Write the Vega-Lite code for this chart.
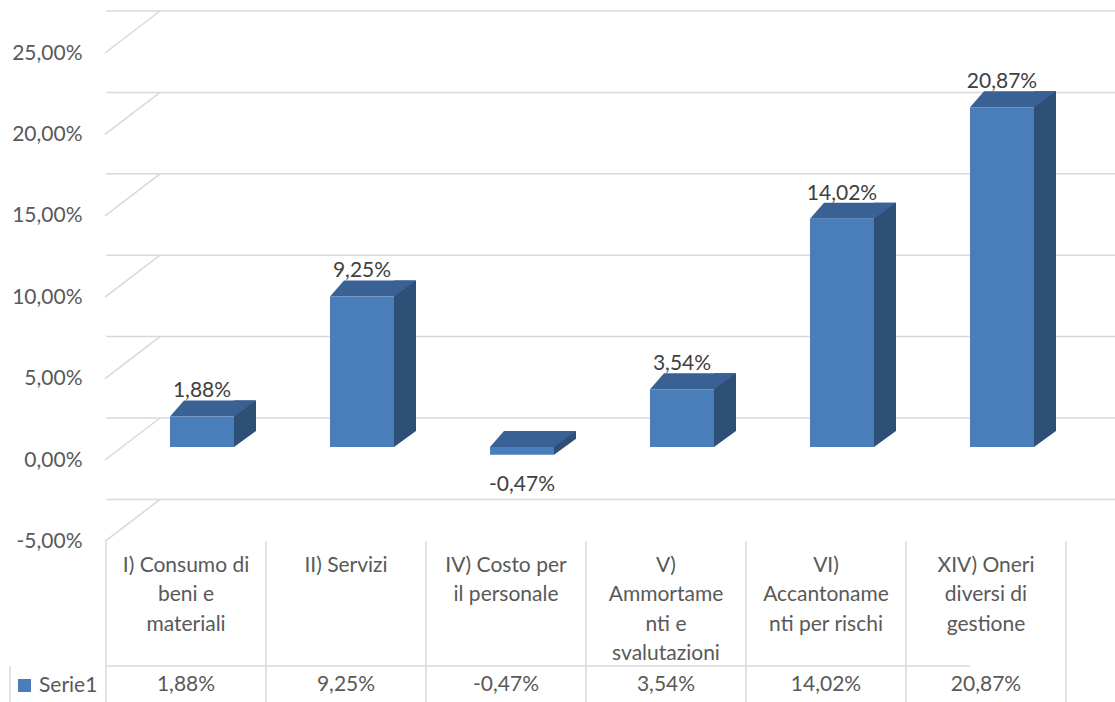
{
  "$schema": "https://vega.github.io/schema/vega-lite/v6.json",
  "autosize": {"type": "none"},
  "width": 960,
  "height": 702,
  "padding": {"left": 106, "right": 49, "top": 0, "bottom": 0},
  "background": "white",
  "config": {
    "view": {"stroke": null},
    "font": "Lato",
    "axisY": {"domain": false, "ticks": false, "grid": false, "labelPadding": 24, "labelFont": "Lato", "labelFontSize": 21, "labelColor": "#595959"},
    "locale": {"number": {"decimal": ",", "thousands": ".", "grouping": [3], "currency": ["", " €"], "minus": "-"}}
  },
  "datasets": {
    "costi": [
      {"voce": "I) Consumo di beni e materiali", "etichetta": "I) Consumo di\nbeni e\nmateriali", "valore": 0.0188},
      {"voce": "II) Servizi", "etichetta": "II) Servizi", "valore": 0.0925},
      {"voce": "IV) Costo per il personale", "etichetta": "IV) Costo per\nil personale", "valore": -0.0047},
      {"voce": "V) Ammortamenti e svalutazioni", "etichetta": "V)\nAmmortame\nnti e\nsvalutazioni", "valore": 0.0354},
      {"voce": "VI) Accantonamenti per rischi", "etichetta": "VI)\nAccantoname\nnti per rischi", "valore": 0.1402},
      {"voce": "XIV) Oneri diversi di gestione", "etichetta": "XIV) Oneri\ndiversi di\ngestione", "valore": 0.2087}
    ],
    "griglia": [{"t": -0.05}, {"t": 0}, {"t": 0.05}, {"t": 0.1}, {"t": 0.15}, {"t": 0.2}, {"t": 0.25}],
    "riga": [{"riga": "Serie1"}]
  },
  "layer": [
    {
      "data": {"name": "griglia"},
      "mark": {"type": "rule", "color": "#D9D9D9", "strokeWidth": 1.5, "xOffset": 54, "x2Offset": 47, "yOffset": -42},
      "encoding": {
        "y": {"field": "t", "type": "quantitative", "scale": {"domain": [-0.14865, 0.28256], "nice": false, "zero": false},
          "axis": {"values": [-0.05, 0, 0.05, 0.1, 0.15, 0.2, 0.25], "format": ".2%", "title": null}}
      }
    },
    {
      "data": {"name": "griglia"},
      "mark": {"type": "rule", "color": "#D9D9D9", "strokeWidth": 1.5, "xOffset": -81, "x2Offset": -26, "y2Offset": -42},
      "encoding": {
        "x": {"datum": "I) Consumo di beni e materiali", "type": "nominal", "scale": {"type": "band", "paddingInner": 0, "paddingOuter": 0}, "axis": null},
        "x2": {"datum": "I) Consumo di beni e materiali"},
        "y": {"field": "t", "type": "quantitative", "scale": {"domain": [-0.14865, 0.28256], "nice": false, "zero": false},
          "axis": {"values": [-0.05, 0, 0.05, 0.1, 0.15, 0.2, 0.25], "format": ".2%", "title": null}},
        "y2": {"field": "t"}
      }
    },
    {
      "data": {"name": "costi"},
      "mark": {"type": "bar", "color": "#2F5076", "width": 22, "xOffset": 59, "yOffset": -29, "y2Offset": -29},
      "encoding": {
        "x": {"field": "voce", "type": "nominal", "sort": null, "scale": {"type": "band", "paddingInner": 0, "paddingOuter": 0}, "axis": null},
        "y": {"field": "valore", "type": "quantitative", "scale": {"domain": [-0.14865, 0.28256], "nice": false, "zero": false},
          "axis": {"values": [-0.05, 0, 0.05, 0.1, 0.15, 0.2, 0.25], "format": ".2%", "title": null}},
        "y2": {"datum": 0}
      }
    },
    {
      "data": {"name": "costi"},
      "transform": [{"filter": "datum.valore >= 0"}],
      "mark": {"type": "point", "shape": "M0.64,0L0.64,-0.34L1.08,-0.34L1.08,-0.32Z", "size": 10000, "filled": true, "color": "#2F5076", "opacity": 1, "strokeWidth": 0, "xOffset": 16, "yOffset": -13},
      "encoding": {
        "x": {"field": "voce", "type": "nominal", "sort": null, "axis": null},
        "y": {"datum": 0, "type": "quantitative", "axis": {"values": [-0.05, 0, 0.05, 0.1, 0.15, 0.2, 0.25], "format": ".2%", "title": null}}
      }
    },
    {
      "data": {"name": "costi"},
      "transform": [{"filter": "datum.valore < 0"}],
      "mark": {"type": "point", "shape": "M0.64,0L0.64,-0.34L1.08,-0.34L1.08,-0.32Z", "size": 10000, "filled": true, "color": "#2F5076", "opacity": 1, "strokeWidth": 0, "xOffset": 16, "yOffset": -13},
      "encoding": {
        "x": {"field": "voce", "type": "nominal", "sort": null, "axis": null},
        "y": {"field": "valore", "type": "quantitative", "axis": {"values": [-0.05, 0, 0.05, 0.1, 0.15, 0.2, 0.25], "format": ".2%", "title": null}}
      }
    },
    {
      "data": {"name": "costi"},
      "transform": [{"filter": "datum.valore >= 0"}],
      "mark": {"type": "point", "shape": "M-0.64,0L0.64,0L1.08,-0.32L-0.36,-0.32Z", "size": 10000, "filled": true, "color": "#3A6194", "opacity": 1, "strokeWidth": 0, "xOffset": 16, "yOffset": -13},
      "encoding": {
        "x": {"field": "voce", "type": "nominal", "sort": null, "axis": null},
        "y": {"field": "valore", "type": "quantitative", "axis": {"values": [-0.05, 0, 0.05, 0.1, 0.15, 0.2, 0.25], "format": ".2%", "title": null}}
      }
    },
    {
      "data": {"name": "costi"},
      "transform": [{"filter": "datum.valore < 0"}],
      "mark": {"type": "point", "shape": "M-0.64,0L0.64,0L1.08,-0.32L-0.36,-0.32Z", "size": 10000, "filled": true, "color": "#3A6194", "opacity": 1, "strokeWidth": 0, "xOffset": 16, "yOffset": -13},
      "encoding": {
        "x": {"field": "voce", "type": "nominal", "sort": null, "axis": null},
        "y": {"datum": 0, "type": "quantitative", "axis": {"values": [-0.05, 0, 0.05, 0.1, 0.15, 0.2, 0.25], "format": ".2%", "title": null}}
      }
    },
    {
      "data": {"name": "costi"},
      "mark": {"type": "bar", "width": 64, "xOffset": 16, "yOffset": -13, "y2Offset": -13},
      "encoding": {
        "x": {"field": "voce", "type": "nominal", "sort": null, "axis": null},
        "y": {"field": "valore", "type": "quantitative", "axis": {"values": [-0.05, 0, 0.05, 0.1, 0.15, 0.2, 0.25], "format": ".2%", "title": null}},
        "y2": {"datum": 0},
        "color": {"datum": "Serie1", "scale": {"range": ["#4A7EBB"]},
          "legend": {"orient": "none", "legendX": -92, "legendY": 675, "title": null, "padding": 0, "symbolType": "square", "symbolSize": 169, "symbolStrokeWidth": 0, "labelFont": "Lato", "labelFontSize": 21, "labelColor": "#595959", "labelOffset": 4}}
      }
    },
    {
      "data": {"name": "costi"},
      "transform": [{"filter": "datum.valore >= 0"}],
      "mark": {"type": "text", "font": "Lato", "fontSize": 21, "color": "#404040", "baseline": "middle", "xOffset": 16, "yOffset": -38},
      "encoding": {
        "x": {"field": "voce", "type": "nominal", "sort": null, "axis": null},
        "y": {"field": "valore", "type": "quantitative", "axis": {"values": [-0.05, 0, 0.05, 0.1, 0.15, 0.2, 0.25], "format": ".2%", "title": null}},
        "text": {"field": "valore", "type": "quantitative", "format": ".2%"}
      }
    },
    {
      "data": {"name": "costi"},
      "transform": [{"filter": "datum.valore < 0"}],
      "mark": {"type": "text", "font": "Lato", "fontSize": 21, "color": "#404040", "baseline": "middle", "xOffset": 16, "yOffset": 17},
      "encoding": {
        "x": {"field": "voce", "type": "nominal", "sort": null, "axis": null},
        "y": {"field": "valore", "type": "quantitative", "axis": {"values": [-0.05, 0, 0.05, 0.1, 0.15, 0.2, 0.25], "format": ".2%", "title": null}},
        "text": {"field": "valore", "type": "quantitative", "format": ".2%"}
      }
    },
    {
      "data": {"name": "costi"},
      "mark": {"type": "rule", "color": "#D9D9D9", "strokeWidth": 1.5},
      "encoding": {
        "x": {"field": "voce", "type": "nominal", "sort": null, "bandPosition": 0, "axis": null},
        "y": {"datum": -0.05, "type": "quantitative", "axis": {"values": [-0.05, 0, 0.05, 0.1, 0.15, 0.2, 0.25], "format": ".2%", "title": null}},
        "y2": {"datum": -0.15}
      }
    },
    {
      "data": {"name": "costi"},
      "transform": [{"filter": "datum.voce == 'XIV) Oneri diversi di gestione'"}],
      "mark": {"type": "rule", "color": "#D9D9D9", "strokeWidth": 1.5},
      "encoding": {
        "x": {"field": "voce", "type": "nominal", "sort": null, "bandPosition": 1, "axis": null},
        "y": {"datum": -0.05, "type": "quantitative", "axis": {"values": [-0.05, 0, 0.05, 0.1, 0.15, 0.2, 0.25], "format": ".2%", "title": null}},
        "y2": {"datum": -0.15}
      }
    },
    {
      "data": {"name": "costi"},
      "transform": [{"filter": "datum.voce == 'I) Consumo di beni e materiali'"}],
      "mark": {"type": "rule", "color": "#D9D9D9", "strokeWidth": 1.5, "xOffset": -96},
      "encoding": {
        "x": {"field": "voce", "type": "nominal", "sort": null, "bandPosition": 0, "axis": null},
        "y": {"datum": -0.12654, "type": "quantitative", "axis": {"values": [-0.05, 0, 0.05, 0.1, 0.15, 0.2, 0.25], "format": ".2%", "title": null}},
        "y2": {"datum": -0.15}
      }
    },
    {
      "data": {"name": "riga"},
      "mark": {"type": "rule", "color": "#D9D9D9", "strokeWidth": 1.5, "xOffset": -96, "x2Offset": 0},
      "encoding": {
        "y": {"datum": -0.12654, "type": "quantitative", "axis": {"values": [-0.05, 0, 0.05, 0.1, 0.15, 0.2, 0.25], "format": ".2%", "title": null}}
      }
    },
    {
      "data": {"name": "costi"},
      "mark": {"type": "text", "font": "Lato", "fontSize": 21, "color": "#595959", "baseline": "top", "align": "center", "lineBreak": "\n", "lineHeight": 29.3},
      "encoding": {
        "x": {"field": "voce", "type": "nominal", "sort": null, "axis": null},
        "y": {"datum": -0.05835, "type": "quantitative", "axis": {"values": [-0.05, 0, 0.05, 0.1, 0.15, 0.2, 0.25], "format": ".2%", "title": null}},
        "text": {"field": "etichetta", "type": "nominal"}
      }
    },
    {
      "data": {"name": "costi"},
      "mark": {"type": "text", "font": "Lato", "fontSize": 21, "color": "#595959", "baseline": "middle", "align": "center"},
      "encoding": {
        "x": {"field": "voce", "type": "nominal", "sort": null, "axis": null},
        "y": {"datum": -0.13821, "type": "quantitative", "axis": {"values": [-0.05, 0, 0.05, 0.1, 0.15, 0.2, 0.25], "format": ".2%", "title": null}},
        "text": {"field": "valore", "type": "quantitative", "format": ".2%"}
      }
    }
  ]
}
